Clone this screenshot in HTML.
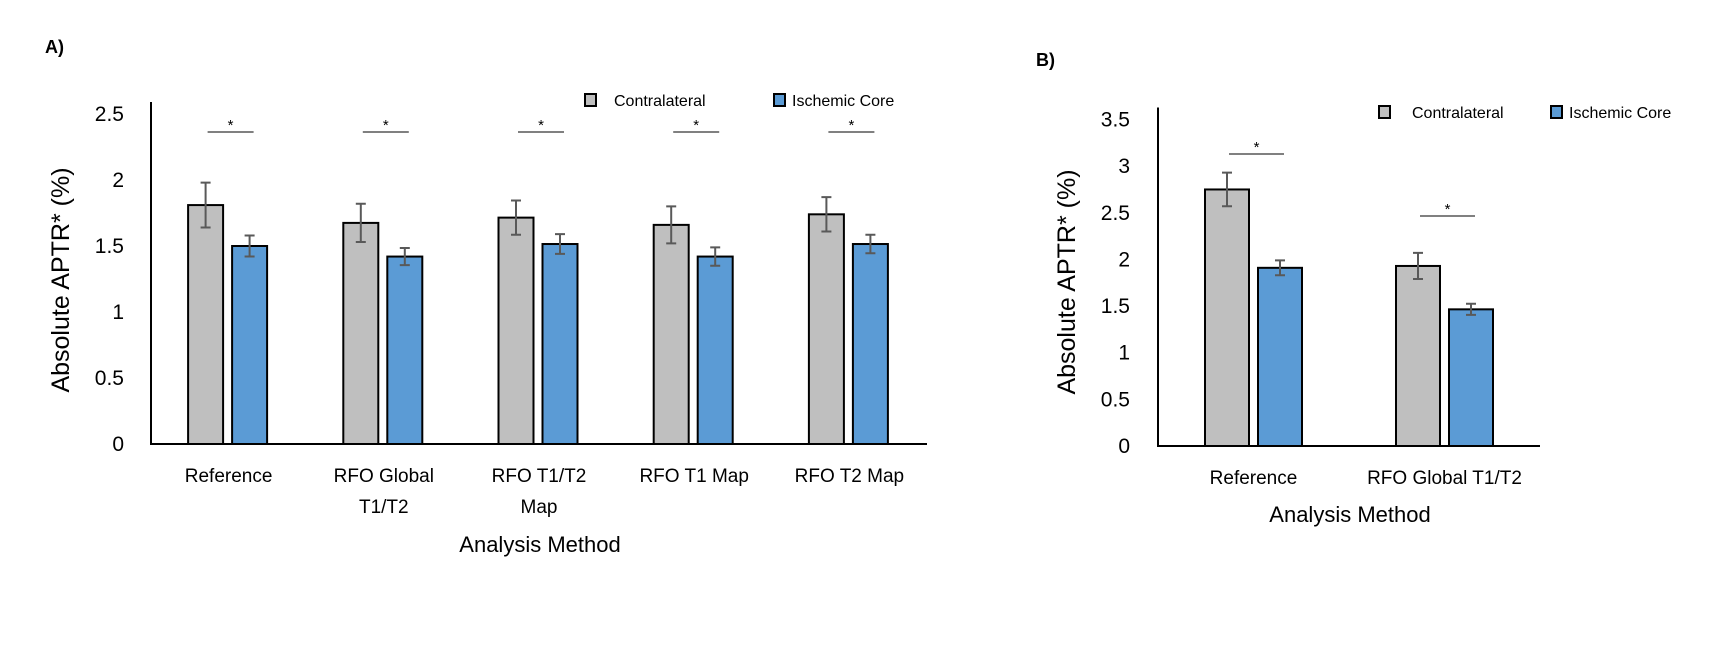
<!DOCTYPE html>
<html><head><meta charset="utf-8">
<style>
html,body{margin:0;padding:0;background:#fff;}
svg{display:block;font-family:"Liberation Sans",sans-serif;}
</style></head>
<body>
<svg id="fig" width="1722" height="669" viewBox="0 0 1722 669">
  <text x="45" y="53" font-size="18" font-weight="bold">A)</text>
  <text x="1036" y="66" font-size="18" font-weight="bold">B)</text>
  <g id="chartA"></g>
  <g id="chartB"></g>
</svg>
<script>
// Chart A data
const catsA = [["Reference"],["RFO Global","T1/T2"],["RFO T1/T2","Map"],["RFO T1 Map"],["RFO T2 Map"]];
const contraA = [1.81, 1.675, 1.715, 1.66, 1.74];
const contraErrA = [0.17, 0.145, 0.13, 0.14, 0.13];
const coreA = [1.50, 1.42, 1.515, 1.42, 1.515];
const coreErrA = [0.08, 0.065, 0.075, 0.07, 0.07];
const ticksA = [0, 0.5, 1, 1.5, 2, 2.5];
// Chart B data
const catsB = [["Reference"],["RFO Global T1/T2"]];
const contraB = [2.75, 1.93];
const contraErrB = [0.18, 0.14];
const coreB = [1.91, 1.465];
const coreErrB = [0.08, 0.06];
const ticksB = [0, 0.5, 1, 1.5, 2, 2.5, 3, 3.5];

const NS = "http://www.w3.org/2000/svg";
function mk(parent, tag, attrs, text){
  const e = document.createElementNS(NS, tag);
  for (const k in attrs) e.setAttribute(k, attrs[k]);
  if (text !== undefined) e.textContent = text;
  parent.appendChild(e);
  return e;
}

function drawChart(g, cfg){
  const {x0,x1,y0,yTop,maxV,cats,contra,cErr,core,kErr,ticks,barW,gap,sig,legend,yTitle,xTitle,tickRight,labelY,lineH} = cfg;
  const ys = v => y0 - (v / maxV) * (y0 - yTop);
  const gw = (x1 - x0) / cats.length;
  ticks.forEach(t => {
    const el = mk(g, "text", {x: tickRight, y: ys(t) + 7, "font-size": 21, "text-anchor": "end", fill: "#000"}, String(t));
    
    
  });
  cats.forEach((c, i) => {
    const cx = x0 + gw * (i + 0.5) + (cfg.shift || 0);
    const gx = cx - gap/2 - barW, bx = cx + gap/2;
    const b1 = mk(g, "rect", {x: gx, y: ys(contra[i]), width: barW, height: y0 - ys(contra[i]), fill: "#bfbfbf", stroke: "#000", "stroke-width": 2});
    
    
    const b2 = mk(g, "rect", {x: bx, y: ys(core[i]), width: barW, height: y0 - ys(core[i]), fill: "#5b9bd5", stroke: "#000", "stroke-width": 2});
    
    
    [[gx + barW/2, contra[i], cErr[i]], [bx + barW/2, core[i], kErr[i]]].forEach(([ex, v, e]) => {
      const eb = mk(g, "path", {d: `M${ex},${ys(v+e)}V${ys(v-e)}M${ex-5},${ys(v+e)}H${ex+5}M${ex-5},${ys(v-e)}H${ex+5}`, stroke: "#595959", "stroke-width": 2, fill: "none"});
      
      
    });
    c.forEach((ln, j) => {
      const t = mk(g, "text", {x: x0 + gw * (i + 0.5), y: labelY + j * lineH, "font-size": 19, "text-anchor": "middle"}, ln);
      
      
    });
    const sy = sig[i];
    if (sy !== null) {
      const sl = mk(g, "line", {x1: gx + barW/2 + 2, x2: bx + barW/2 + 4, y1: sy, y2: sy, stroke: "#000", "stroke-width": 1});
      
      
      const st = mk(g, "text", {x: (gx + bx + barW)/2 + 3, y: sy - 2, "font-size": 15, "text-anchor": "middle"}, "*");
      
      
    }
  });
  const ax = mk(g, "path", {d: `M${x0},${yTop-12}V${y0}H${x1}`, stroke: "#000", "stroke-width": 2, fill: "none"});
  
  
  const yt = mk(g, "text", {x: 0, y: 0, "font-size": 25, "text-anchor": "middle", transform: `translate(${yTitle[0]},${yTitle[1]}) rotate(-90)`}, "Absolute APTR* (%)");
  
  
  const xt = mk(g, "text", {x: xTitle[0], y: xTitle[1], "font-size": 22, "text-anchor": "middle"}, "Analysis Method");
  
  
  const l1 = mk(g, "rect", {x: legend[0], y: legend[1], width: 11, height: 12, fill: "#bfbfbf", stroke: "#000", "stroke-width": 2});
  
  
  const lt1 = mk(g, "text", {x: legend[2], y: legend[1] + 12, "font-size": 16}, "Contralateral");
  
  
  const l2 = mk(g, "rect", {x: legend[3], y: legend[1], width: 11, height: 12, fill: "#5b9bd5", stroke: "#000", "stroke-width": 2});
  
  
  const lt2 = mk(g, "text", {x: legend[4], y: legend[1] + 12, "font-size": 16}, "Ischemic Core");
  
  
}

drawChart(document.getElementById("chartA"), {
  x0: 151, x1: 927, y0: 444, yTop: 114, maxV: 2.5,
  cats: catsA, contra: contraA, cErr: contraErrA, core: coreA, kErr: coreErrA, ticks: ticksA,
  barW: 35, gap: 9, sig: [132,132,132,132,132],
  legend: [585, 94, 614, 774, 792],
  yTitle: [69, 280], xTitle: [540, 552], tickRight: 124, labelY: 482, lineH: 31, shift: -1
});
drawChart(document.getElementById("chartB"), {
  x0: 1158, x1: 1540, y0: 446, yTop: 119.5, maxV: 3.5,
  cats: catsB, contra: contraB, cErr: contraErrB, core: coreB, kErr: coreErrB, ticks: ticksB,
  barW: 44, gap: 9, sig: [154, 216],
  legend: [1379, 106, 1412, 1551, 1569],
  yTitle: [1075, 282], xTitle: [1350, 522], tickRight: 1130, labelY: 484, lineH: 31, shift: 0
});
</script>
</body></html>
